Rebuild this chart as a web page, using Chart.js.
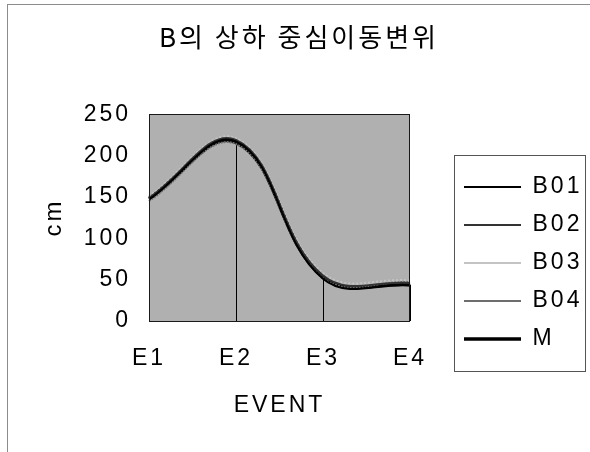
<!DOCTYPE html>
<html>
<head>
<meta charset="utf-8">
<script src="https://cdn.jsdelivr.net/npm/chart.js@4.4.1/dist/chart.umd.min.js"></script>
<style>
  html, body { margin: 0; padding: 0; background: #fff; }
  canvas { display: block; }
</style>
</head>
<body>
<canvas id="chart" width="590" height="452"></canvas>
<script>
// Vertical centre-of-mass displacement of B per event (cm)
const events = ['E1', 'E2', 'E3', 'E4'];
const b01 = [147, 217, 51, 43];
const b02 = [149, 219, 55, 46];
const b03 = [151, 221, 58, 49];
const b04 = [145, 214, 52, 47];
const mean = [148, 216, 53, 44];
const yTickValues = [0, 50, 100, 150, 200, 250];

const LATIN = "'Liberation Sans', Arial, sans-serif";
const HANGUL = "'Noto Sans CJK KR', sans-serif";

// wide, evenly spaced lettering used throughout the chart
const letterSpacing = {
  id: 'letterSpacing',
  beforeUpdate(chart) { chart.ctx.letterSpacing = '3px'; },
  beforeDraw(chart) { chart.ctx.letterSpacing = '3px'; }
};

// page frame, grey plot area, drop lines, plot border and legend box
const frame = {
  id: 'frame',
  afterLayout(chart) {
    const lg = chart.legend;
    const dy = 37;
    lg.left = 449; lg.right = chart.width;
    lg.top += dy; lg.bottom += dy;
    const t = chart.titleBlock;
    t.left = 8; t.right = chart.width;
  },
  beforeDraw(chart) {
    const { ctx, chartArea: a } = chart;
    ctx.save();
    ctx.fillStyle = '#fff';
    ctx.fillRect(0, 0, chart.width, chart.height);
    ctx.strokeStyle = '#8c8c8c';
    ctx.lineWidth = 1;
    ctx.strokeRect(7.5, 4.5, chart.width + 20, chart.height + 20);
    ctx.fillStyle = '#b0b0b0';
    ctx.fillRect(a.left, a.top, a.right - a.left, a.bottom - a.top);
    ctx.restore();
  },
  beforeDatasetsDraw(chart) {
    const { ctx } = chart;
    const meta = chart.getDatasetMeta(chart.data.datasets.length - 1);
    const y0 = chart.scales.y.getPixelForValue(0);
    ctx.save();
    ctx.strokeStyle = '#000';
    ctx.lineWidth = 1;
    ctx.beginPath();
    meta.data.forEach(pt => {
      const x = Math.round(pt.x) + 0.5;
      ctx.moveTo(x, pt.y);
      ctx.lineTo(x, y0);
    });
    ctx.stroke();
    ctx.restore();
  },
  afterDatasetsDraw(chart) {
    const { ctx, chartArea: a } = chart;
    ctx.save();
    ctx.strokeStyle = '#1a1a1a';
    ctx.lineWidth = 1;
    ctx.strokeRect(Math.round(a.left) + 0.5, Math.round(a.top) + 0.5,
                   Math.round(a.right - a.left) - 1, Math.round(a.bottom - a.top));
    ctx.restore();
  },
  afterDraw(chart) {
    const boxes = chart.legend.legendHitBoxes;
    if (!boxes || !boxes.length) return;
    const { ctx } = chart;
    const first = boxes[0], last = boxes[boxes.length - 1];
    const left = first.left - 10;
    const top = first.top + first.height / 2 - 32;
    const bottom = last.top + last.height / 2 + 32;
    ctx.save();
    ctx.strokeStyle = '#555';
    ctx.lineWidth = 1;
    ctx.strokeRect(Math.round(left) + 0.5, Math.round(top) + 0.5, 131, Math.round(bottom - top));
    ctx.restore();
  }
};

const series = (label, data, color, width, dash) => ({
  label, data,
  borderColor: color,
  backgroundColor: color,
  borderWidth: width,
  borderDash: dash,
  pointRadius: 0,
  pointHoverRadius: 0,
  tension: 0.4,
  fill: false
});

new Chart(document.getElementById('chart'), {
  type: 'line',
  data: {
    labels: events,
    datasets: [
      series('B01', b01, '#000000', 2, []),
      series('B02', b02, '#333333', 2, []),
      series('B03', b03, '#c4c4c4', 2, [2, 2]),
      series('B04', b04, '#6e6e6e', 2, [2, 1]),
      series('M', mean, '#000000', 3.5, [])
    ]
  },
  options: {
    responsive: false,
    animation: false,
    events: [],
    layout: { padding: { left: 36, right: 55.33, top: 0, bottom: 0 } },
    plugins: {
      tooltip: { enabled: false },
      title: {
        display: true,
        text: 'B의 상하 중심이동변위',
        color: '#000',
        font: { family: HANGUL, size: 26, weight: 'normal' },
        padding: { top: 22, bottom: 61 }
      },
      legend: {
        position: 'right',
        labels: {
          usePointStyle: true,
          pointStyle: 'line',
          pointStyleWidth: 57,
          padding: 15,
          color: '#000',
          font: { family: LATIN, size: 23 }
        }
      }
    },
    scales: {
      x: {
        offset: false,
        grid: { display: false, drawTicks: false },
        border: { display: false },
        ticks: { color: '#000', font: { family: LATIN, size: 23 }, padding: 24, maxRotation: 0, autoSkip: false },
        title: { display: true, text: 'EVENT', color: '#000', font: { family: LATIN, size: 23 }, padding: { top: 4, bottom: 33 } },
        afterFit(s) { s.height = 131; }
      },
      y: {
        min: 0,
        max: 250,
        grid: { display: false, drawTicks: false },
        border: { display: false },
        afterBuildTicks(s) { s.ticks = yTickValues.map(v => ({ value: v })); },
        ticks: { color: '#000', font: { family: LATIN, size: 23 }, padding: 18 },
        title: { display: true, text: 'cm', color: '#000', font: { family: LATIN, size: 24 }, padding: { top: 4, bottom: 4 } },
        afterFit(s) { s.width = 113; }
      }
    }
  },
  plugins: [letterSpacing, frame]
});
</script>
</body>
</html>
